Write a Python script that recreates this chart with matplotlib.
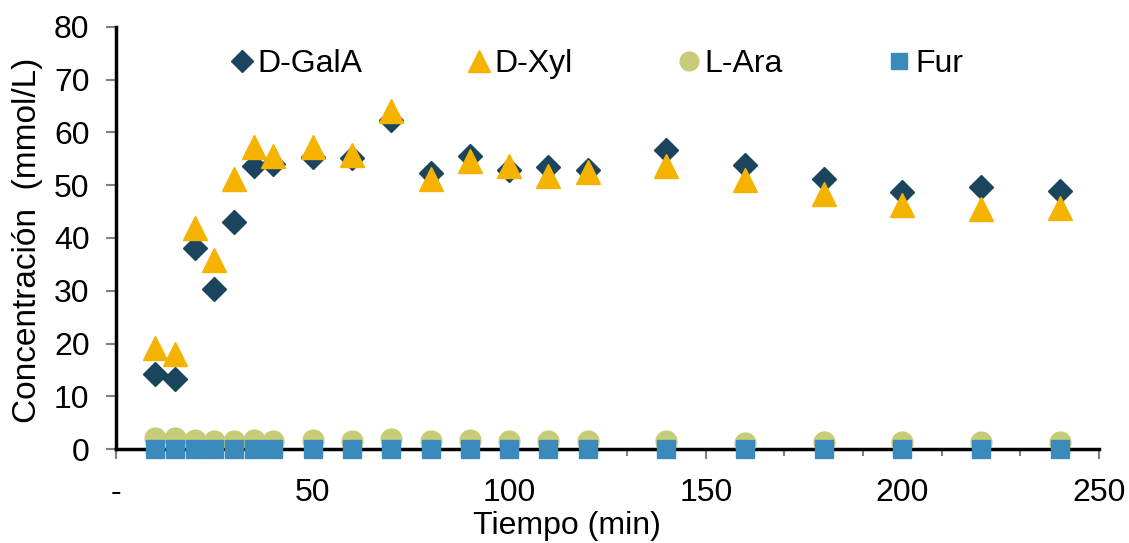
import matplotlib
matplotlib.use("Agg")
import matplotlib.pyplot as plt
from matplotlib.ticker import MultipleLocator, FixedLocator, FixedFormatter

plt.rcParams['font.family'] = ['Liberation Sans', 'DejaVu Sans']

time_min = [10, 15, 20, 25, 30, 35, 40, 50, 60, 70, 80, 90, 100, 110, 120, 140, 160, 180, 200, 220, 240]
d_gala = [14.2, 13.3, 38.1, 30.3, 43.0, 53.6, 54.1, 55.3, 55.2, 62.3, 52.3, 55.5, 52.9, 53.4, 52.9, 56.6, 53.8, 51.2, 48.8, 49.7, 49.0]
d_xyl = [19.1, 18.0, 41.9, 35.8, 51.2, 57.2, 55.6, 57.3, 55.7, 64.1, 51.1, 54.6, 53.6, 51.8, 52.5, 53.7, 50.9, 48.3, 46.2, 45.5, 45.7]
l_ara = [2.0, 2.0, 1.7, 1.5, 1.6, 1.7, 1.6, 1.8, 1.6, 1.9, 1.6, 1.7, 1.5, 1.6, 1.6, 1.5, 1.2, 1.4, 1.3, 1.3, 1.3]
fur = [0.0] * len(time_min)

x_ticks = [0, 50, 100, 150, 200, 250]
x_tick_labels = ["-", "50", "100", "150", "200", "250"]
y_ticks = [0, 10, 20, 30, 40, 50, 60, 70, 80]

fig = plt.figure(figsize=(11.29, 5.43), dpi=100)
ax = fig.add_axes([0.1027, 0.1731, 0.8707, 0.7772])

ax.plot(time_min, d_gala, linestyle='none', marker='D', markersize=12, color='#1B445F', label='D-GalA', clip_on=False, zorder=3)
ax.plot(time_min, d_xyl, linestyle='none', marker='^', markersize=17, color='#F5B300', label='D-Xyl', clip_on=False, zorder=4)
ax.plot(time_min, l_ara, linestyle='none', marker='o', markersize=15, color='#C8CC78', label='L-Ara', clip_on=False, zorder=5)
ax.plot(time_min, fur, linestyle='none', marker='s', markersize=13, color='#3A8ABC', label='Fur', clip_on=False, zorder=6)

ax.set_xlim(0, 250)
ax.set_ylim(0, 80)
ax.xaxis.set_major_locator(FixedLocator(x_ticks))
ax.xaxis.set_major_formatter(FixedFormatter(x_tick_labels))
ax.xaxis.set_minor_locator(MultipleLocator(10))
ax.set_yticks(y_ticks)

for s in ['top', 'right']:
    ax.spines[s].set_visible(False)
for s in ['left', 'bottom']:
    ax.spines[s].set_linewidth(2.5)
    ax.spines[s].set_color('black')

FS = 23
ax.tick_params(axis='both', which='major', direction='out', length=7, width=1.5, color='#808080', labelsize=FS)
ax.tick_params(axis='x', which='major', pad=14)
ax.tick_params(axis='y', which='major', pad=12)
ax.tick_params(axis='x', which='minor', direction='out', length=5, width=1.5, color='#808080')

ax.set_xlabel('Tiempo (min)', fontsize=FS)
ax.set_ylabel('Concentración  (mmol/L)', fontsize=24)
ax.xaxis.set_label_coords(0.459, -0.147)
ax.yaxis.set_label_coords(-0.0743, 0.495)

leg = ax.legend(loc='upper center', bbox_to_anchor=(0.4868, 1.0), ncol=4, frameon=False,
                fontsize=FS, markerscale=0.9, handletextpad=0.0, columnspacing=3.13,
                handlelength=1.0, borderaxespad=0.3)

fig.savefig('out.png', dpi=100)
